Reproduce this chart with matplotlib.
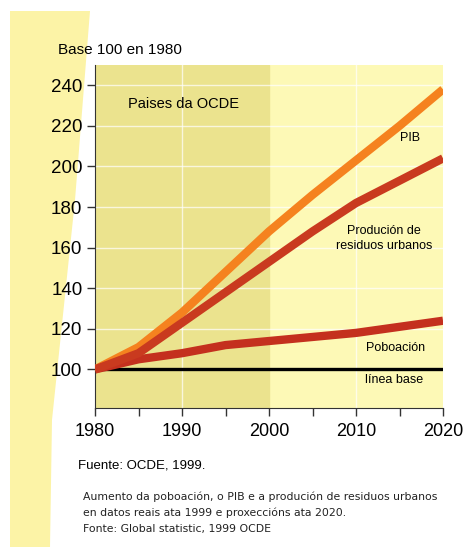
import matplotlib.pyplot as plt
from matplotlib.patches import Polygon

# Series (base 100 = 1980)
years = [1980, 1985, 1990, 1995, 2000, 2005, 2010, 2015, 2020]
pib = [100, 111, 128, 148, 168, 186, 203, 220, 238]
residuos = [100, 108, 123, 138, 153, 168, 182, 193, 204]
poboacion = [100, 105, 108, 112, 114, 116, 118, 121, 124]
linea_base = [100, 100, 100, 100, 100, 100, 100, 100, 100]

y_ticks = [100, 120, 140, 160, 180, 200, 220, 240]
x_ticks = [1980, 1990, 2000, 2010, 2020]

cond = dict(family='Liberation Sans')

fig = plt.figure(figsize=(4.67, 5.47), dpi=100)
fig.patch.set_facecolor('white')

# decorative yellow strip on the left
strip = Polygon([(10 / 467, 1 - 11 / 547), (90 / 467, 1 - 11 / 547), (75 / 467, 1 - 200 / 547),
                 (52 / 467, 1 - 420 / 547), (50 / 467, 0), (10 / 467, 0)],
                closed=True, transform=fig.transFigure, facecolor='#fcf3a6', edgecolor='none', zorder=-5)
fig.patches.append(strip)

ax = fig.add_axes([95 / 467, 1 - 408 / 547, 348 / 467, 343 / 547])
ax.set_facecolor('#fdf9b6')
ax.axvspan(1980, 2000, color='#ebe38e', zorder=0)

for x in [1990, 2010]:
    ax.axvline(x, color='white', lw=1, alpha=0.7, zorder=1)
for y in y_ticks[1:]:
    ax.axhline(y, color='white', lw=1, alpha=0.7, zorder=1)

ax.plot(years, linea_base, color='black', lw=2.4, zorder=3)
ax.plot(years, poboacion, color='#c4301e', lw=6, solid_capstyle='butt', zorder=4)
ax.plot(years, residuos, color='#c93a1f', lw=6, solid_capstyle='butt', zorder=5)
ax.plot(years, pib, color='#f5821f', lw=6, solid_capstyle='butt', zorder=4)

ax.set_xlim(1980, 2020)
ax.set_ylim(81, 250)
ax.set_xticks(x_ticks)
ax.set_xticks([1985, 1995, 2005, 2015], minor=True)
ax.set_yticks(y_ticks)
ax.set_xticklabels([str(v) for v in x_ticks], fontsize=13, **cond)
ax.set_yticklabels([str(v) for v in y_ticks], fontsize=13.5, **cond)
ax.tick_params(which='both', length=6, width=1, color='#333333')
ax.tick_params(axis='y', pad=3)
ax.tick_params(axis='x', pad=5)
for s in ['top', 'right']:
    ax.spines[s].set_visible(False)
for s in ['left', 'bottom']:
    ax.spines[s].set_color('#333333')

ax.text(1983.8, 231, 'Paises da OCDE', fontsize=10.5, va='center', **cond)
ax.text(2016.2, 214, 'PIB', fontsize=9, ha='center', va='center', **cond)
ax.text(2013.2, 164.6, 'Produción de\nresiduos urbanos', fontsize=9, ha='center', va='center',
        linespacing=1.4, **cond)
ax.text(2014.6, 110.4, 'Poboación', fontsize=9, ha='center', va='center', **cond)
ax.text(2014.4, 94.6, 'línea base', fontsize=9, ha='center', va='center', **cond)

fig.text(58 / 467, 1 - 50 / 547, 'Base 100 en 1980', fontsize=11, va='center', **cond)
fig.text(78 / 467, 1 - 465 / 547, 'Fuente: OCDE, 1999.', fontsize=9.5, va='center', **cond)
fig.text(83 / 467, 1 - 491 / 547,
         'Aumento da poboación, o PIB e a produción de residuos urbanos\n'
         'en datos reais ata 1999 e proxeccións ata 2020.\n'
         'Fonte: Global statistic, 1999 OCDE',
         fontsize=7.8, va='top', ha='left', linespacing=1.7, color='#222222',
         family='DejaVu Sans')

fig.savefig('out.png', dpi=100)
